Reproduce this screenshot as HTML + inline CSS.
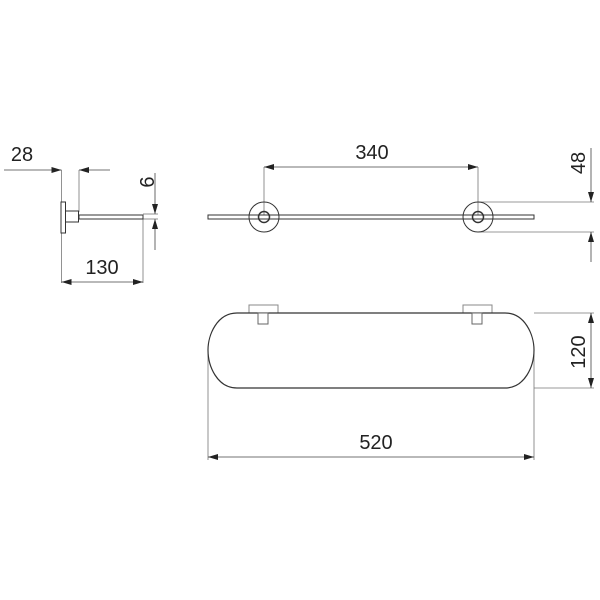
<!DOCTYPE html>
<html><head><style>body{margin:0;background:#fff}svg{display:block}text{font-family:"Liberation Sans",sans-serif;font-size:20px;fill:#222}</style></head><body>
<svg width="600" height="600" viewBox="0 0 600 600">
<defs>
<marker id="a" viewBox="0 0 10 6" refX="10" refY="3" markerWidth="10" markerHeight="6" markerUnits="userSpaceOnUse" orient="auto-start-reverse"><path d="M0,0L10,3L0,6z" fill="#222"/></marker>
</defs>
<g stroke="#777" stroke-width="0.8" fill="none">
<!-- side view -->
<line x1="4" y1="170" x2="61.5" y2="170" marker-end="url(#a)" stroke="#444"/>
<line x1="110" y1="170" x2="79" y2="170" marker-end="url(#a)" stroke="#444"/>
<line x1="61.5" y1="170" x2="61.5" y2="283"/>
<line x1="79" y1="170" x2="79" y2="212"/>
<line x1="143" y1="219" x2="143" y2="283"/>
<line x1="155" y1="173" x2="155" y2="214" marker-end="url(#a)" stroke="#444"/>
<line x1="155" y1="250" x2="155" y2="219" marker-end="url(#a)" stroke="#444"/>
<line x1="143" y1="214" x2="158" y2="214"/>
<line x1="143" y1="219" x2="158" y2="219"/>
<line x1="61.5" y1="282" x2="143" y2="282" marker-start="url(#a)" marker-end="url(#a)" stroke="#444"/>
<!-- front view -->
<line x1="264" y1="167" x2="478" y2="167" marker-start="url(#a)" marker-end="url(#a)" stroke="#444"/>
<line x1="264" y1="167" x2="264" y2="215"/>
<line x1="478" y1="167" x2="478" y2="215"/>
<line x1="478" y1="202" x2="594" y2="202"/>
<line x1="478" y1="232" x2="594" y2="232"/>
<line x1="591" y1="148" x2="591" y2="202" marker-end="url(#a)" stroke="#444"/>
<line x1="591" y1="262" x2="591" y2="232" marker-end="url(#a)" stroke="#444"/>
<!-- top view -->
<line x1="534" y1="313" x2="594" y2="313"/>
<line x1="534" y1="388" x2="594" y2="388"/>
<line x1="591" y1="313" x2="591" y2="388" marker-start="url(#a)" marker-end="url(#a)" stroke="#444"/>
<line x1="208" y1="350" x2="208" y2="460"/>
<line x1="534" y1="350" x2="534" y2="460"/>
<line x1="208" y1="457" x2="534" y2="457" marker-start="url(#a)" marker-end="url(#a)" stroke="#444"/>
</g>
<g stroke="#333" stroke-width="1" fill="#fff">
<!-- side object -->
<rect x="61" y="202" width="4.5" height="31"/>
<rect x="65.5" y="211" width="13" height="11"/>
<rect x="79" y="215" width="64" height="4"/>
<!-- front object -->
<rect x="208" y="215" width="326" height="4"/>
<circle cx="264" cy="217" r="15" fill="none"/>
<circle cx="478" cy="217" r="15" fill="none"/>
<circle cx="264" cy="217" r="5.5" fill="none" stroke-width="1.5"/>
<circle cx="478" cy="217" r="5.5" fill="none" stroke-width="1.5"/>
<!-- top object -->
<rect x="249" y="305" width="29" height="8" stroke="#888"/>
<rect x="463" y="305" width="29" height="8" stroke="#888"/>
<path d="M237,313 L505,313 C525,313 534,335 534,350 C534,366 525,388 505,388 L237,388 C217,388 208,366 208,350 C208,335 217,313 237,313 Z" fill="none" stroke-width="1.2"/>
<rect x="258" y="313" width="10" height="11" stroke="#666"/>
<rect x="472" y="313" width="10" height="11" stroke="#666"/>
</g>
<text x="22" y="161" text-anchor="middle">28</text>
<text x="102" y="274" text-anchor="middle">130</text>
<text x="372" y="159" text-anchor="middle">340</text>
<text x="376" y="449" text-anchor="middle">520</text>
<text transform="translate(154,182) rotate(-90)" text-anchor="middle">6</text>
<text transform="translate(585,163) rotate(-90)" text-anchor="middle">48</text>
<text transform="translate(585,352) rotate(-90)" text-anchor="middle">120</text>
</svg>
</body></html>
